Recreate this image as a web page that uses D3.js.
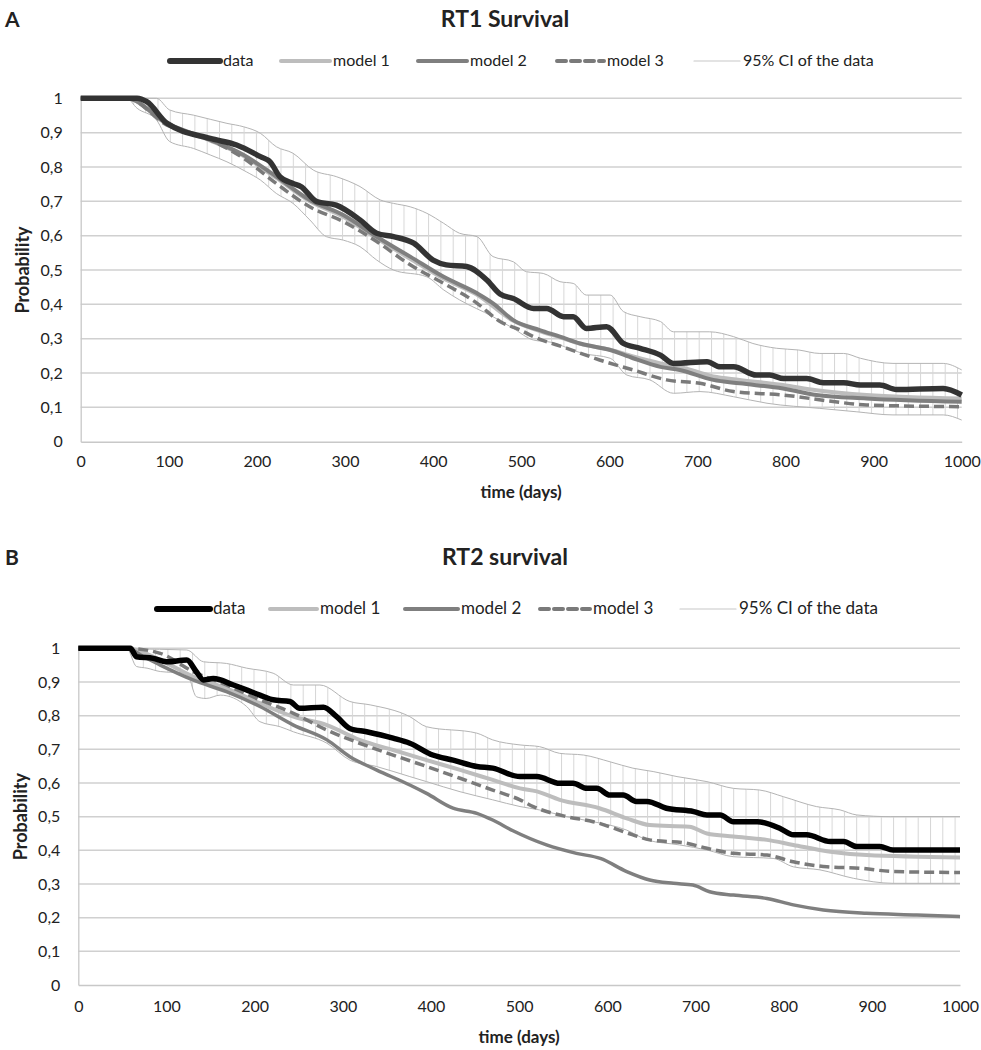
<!DOCTYPE html>
<html><head><meta charset="utf-8">
<script src="https://cdn.jsdelivr.net/npm/d3@7"></script>
<style>body{margin:0;background:#fff}svg{display:block}text{font-family:Lato,"Open Sans",sans-serif;fill:#222}</style>
</head><body><svg id="c" width="981" height="1050"></svg>
<script>
const xTicks = [0,100,200,300,400,500,600,700,800,900,1000];
const yTicks = [0,0.1,0.2,0.3,0.4,0.5,0.6,0.7,0.8,0.9,1];
const yTickLabels = ["0","0,1","0,2","0,3","0,4","0,5","0,6","0,7","0,8","0,9","1"];
const seriesNames = ["data","model 1","model 2","model 3","95% CI of the data"];

// RT1 (panel A)
const rt1Data = [[0,1],[64,1],[75,0.99],[98,0.927],[147,0.883],[177,0.864],[204,0.83],[215,0.815],[226,0.772],[241,0.752],[250,0.743],[268,0.699],[290,0.689],[317,0.646],[336,0.607],[355,0.597],[378,0.578],[400,0.529],[415,0.515],[438,0.51],[461,0.471],[476,0.43],[491,0.417],[514,0.388],[529,0.388],[548,0.364],[559,0.364],[574,0.33],[597,0.335],[616,0.286],[635,0.272],[658,0.252],[673,0.228],[711,0.233],[726,0.218],[741,0.218],[767,0.194],[782,0.194],[798,0.184],[824,0.184],[843,0.172],[866,0.172],[885,0.165],[907,0.165],[926,0.152],[979,0.155],[1000,0.136]];
const rt1Model1 = [[0,1],[52,1],[98,0.925],[147,0.877],[185,0.832],[222,0.768],[260,0.7],[298,0.655],[336,0.592],[374,0.533],[412,0.475],[450,0.428],[491,0.352],[521,0.322],[544,0.304],[567,0.285],[601,0.268],[627,0.248],[658,0.228],[680,0.218],[718,0.19],[748,0.18],[797,0.165],[835,0.15],[892,0.136],[1000,0.126]];
const rt1Model2 = [[0,1],[52,1],[98,0.927],[147,0.879],[185,0.835],[222,0.772],[260,0.704],[298,0.66],[336,0.597],[374,0.539],[412,0.48],[450,0.432],[468,0.403],[491,0.354],[521,0.325],[544,0.306],[567,0.286],[601,0.267],[627,0.243],[658,0.218],[680,0.209],[718,0.18],[748,0.17],[797,0.155],[835,0.136],[892,0.126],[1000,0.116]];
const rt1Model3 = [[0,1],[52,1],[98,0.922],[147,0.879],[185,0.825],[222,0.752],[260,0.684],[298,0.641],[336,0.583],[374,0.515],[412,0.461],[450,0.403],[476,0.35],[499,0.325],[514,0.306],[552,0.272],[589,0.238],[627,0.209],[665,0.18],[703,0.17],[741,0.146],[797,0.136],[854,0.117],[892,0.107],[1000,0.102]];
const rt1CiUpper = [[0,1],[86,1],[101,0.966],[128,0.951],[166,0.927],[185,0.917],[204,0.898],[222,0.859],[241,0.84],[264,0.791],[290,0.772],[317,0.743],[340,0.704],[355,0.694],[374,0.684],[393,0.665],[412,0.636],[430,0.607],[450,0.597],[468,0.539],[491,0.524],[506,0.495],[525,0.49],[544,0.466],[559,0.461],[574,0.427],[601,0.427],[616,0.379],[635,0.364],[658,0.35],[673,0.32],[714,0.32],[741,0.306],[763,0.286],[790,0.272],[815,0.267],[839,0.257],[866,0.257],[885,0.243],[922,0.228],[979,0.228],[1000,0.209]];
const rt1CiLower = [[0,1],[52,1],[64,0.971],[86,0.937],[101,0.874],[128,0.854],[147,0.835],[166,0.815],[188,0.786],[204,0.762],[222,0.723],[241,0.694],[260,0.646],[279,0.597],[298,0.587],[317,0.568],[336,0.529],[355,0.5],[393,0.48],[412,0.442],[430,0.413],[468,0.364],[491,0.33],[514,0.296],[533,0.29],[570,0.257],[601,0.243],[620,0.194],[646,0.18],[673,0.141],[703,0.146],[741,0.131],[779,0.112],[839,0.097],[881,0.087],[922,0.078],[979,0.078],[1000,0.063]];

// RT2 (panel B)
const rt2Data = [[0,1],[59,1],[66,0.975],[85,0.97],[100,0.96],[123,0.965],[134,0.93],[142,0.906],[153,0.91],[176,0.891],[206,0.861],[221,0.847],[240,0.842],[251,0.822],[278,0.825],[293,0.797],[308,0.762],[327,0.752],[357,0.733],[376,0.718],[402,0.683],[425,0.668],[452,0.649],[470,0.644],[501,0.619],[520,0.619],[546,0.599],[561,0.599],[577,0.584],[588,0.584],[603,0.564],[618,0.564],[633,0.545],[645,0.545],[667,0.525],[698,0.515],[713,0.505],[728,0.505],[743,0.485],[770,0.485],[796,0.465],[811,0.446],[826,0.446],[853,0.426],[868,0.426],[883,0.411],[909,0.411],[924,0.401],[1000,0.401]];
const rt2Model1 = [[0,1],[55,1],[93,0.965],[130,0.916],[168,0.881],[206,0.837],[244,0.797],[282,0.772],[319,0.728],[357,0.698],[395,0.668],[433,0.639],[470,0.609],[501,0.584],[520,0.575],[546,0.55],[591,0.525],[622,0.495],[648,0.475],[693,0.47],[713,0.45],[743,0.441],[781,0.431],[811,0.416],[853,0.396],[894,0.386],[1000,0.379]];
const rt2Model2 = [[0,1],[55,1],[74,0.975],[93,0.95],[130,0.906],[168,0.871],[206,0.827],[244,0.772],[282,0.728],[308,0.678],[338,0.639],[376,0.594],[395,0.569],[425,0.525],[452,0.51],[470,0.49],[493,0.458],[531,0.416],[565,0.391],[592,0.376],[622,0.337],[648,0.312],[675,0.302],[697,0.297],[716,0.277],[743,0.267],[781,0.257],[811,0.238],[845,0.223],[894,0.213],[951,0.208],[1000,0.203]];
const rt2Model3 = [[0,1],[55,1],[93,0.985],[130,0.931],[168,0.891],[206,0.847],[244,0.807],[282,0.757],[319,0.718],[357,0.683],[395,0.649],[433,0.614],[470,0.579],[501,0.55],[516,0.53],[554,0.5],[584,0.485],[629,0.446],[648,0.431],[690,0.421],[713,0.406],[743,0.391],[781,0.386],[811,0.366],[849,0.351],[886,0.347],[924,0.337],[1000,0.334]];
const rt2CiUpper = [[0,1],[123,0.995],[142,0.96],[168,0.955],[191,0.941],[221,0.926],[244,0.891],[274,0.891],[308,0.842],[331,0.832],[376,0.797],[395,0.767],[452,0.748],[470,0.728],[501,0.713],[523,0.708],[546,0.688],[573,0.683],[603,0.663],[629,0.644],[652,0.634],[679,0.619],[713,0.604],[743,0.584],[773,0.579],[800,0.559],[837,0.53],[864,0.52],[883,0.505],[921,0.5],[1000,0.5]];
const rt2CiLower = [[0,1],[55,1],[66,0.946],[78,0.941],[93,0.931],[123,0.926],[134,0.856],[145,0.851],[161,0.861],[191,0.827],[206,0.782],[229,0.767],[244,0.752],[282,0.718],[308,0.668],[338,0.649],[376,0.619],[395,0.604],[433,0.574],[470,0.55],[501,0.53],[523,0.52],[554,0.5],[584,0.485],[622,0.46],[645,0.431],[682,0.416],[713,0.401],[743,0.381],[788,0.376],[811,0.351],[841,0.342],[879,0.317],[924,0.302],[1000,0.302]];

const svg = d3.select("#c");
svg.append("rect").attr("width",981).attr("height",1050).attr("fill","#fff");
const defs = svg.append("defs");

function panel(o){
  const x = d3.scaleLinear().domain([0,1000]).range([o.left,o.right]);
  const y = d3.scaleLinear().domain([0,1]).range([o.bottom,o.top]);
  const g = svg.append("g");
  g.append("text").attr("x",5).attr("y",o.titleY).attr("font-size",21).attr("font-weight","bold").text(o.letter);
  g.append("text").attr("x",505).attr("y",o.titleY).attr("text-anchor","middle").attr("font-size",23).attr("font-weight","bold").text(o.title);
  // gridlines
  g.append("g").selectAll("line").data(yTicks.filter(d=>d>0)).join("line")
    .attr("x1",o.left).attr("x2",o.right).attr("y1",d=>y(d)).attr("y2",d=>y(d))
    .attr("stroke","#d0d0d0").attr("stroke-width",1.5);
  // axes
  const ya = g.append("g").attr("transform",`translate(${o.left},0)`)
    .call(d3.axisLeft(y).tickValues(yTicks).tickFormat((d,i)=>yTickLabels[i]).tickSize(0).tickPadding(o.yPad));
  ya.select(".domain").attr("stroke","#c8c8c8").attr("stroke-width",1.3);
  ya.selectAll("text").attr("font-size",16).attr("fill","#222").attr("font-family","Lato");
  const xa = g.append("g").attr("transform",`translate(0,${o.bottom})`)
    .call(d3.axisBottom(x).tickValues(xTicks).tickFormat(d3.format("d")).tickSize(0).tickPadding(o.xPad));
  xa.select(".domain").attr("stroke","#c8c8c8").attr("stroke-width",1.5);
  xa.selectAll("text").attr("font-size",16).attr("fill","#222").attr("font-family","Lato");
  g.append("text").attr("transform",`translate(${o.ytitleX},${(o.top+o.bottom)/2}) rotate(-90)`)
    .attr("text-anchor","middle").attr("font-size",18).attr("font-weight","bold").text("Probability");
  g.append("text").attr("x",(o.left+o.right)/2).attr("y",o.xtitleY).attr("text-anchor","middle")
    .attr("font-size",17).attr("font-weight","bold").text("time (days)");

  // CI hatching: vertical line pattern clipped to the band between the CI bounds
  const pid = "hatch"+o.letter;
  const pat = defs.append("pattern").attr("id",pid).attr("patternUnits","userSpaceOnUse")
    .attr("x",o.left+3).attr("y",0).attr("width",12.3).attr("height",1050);
  pat.append("line").attr("x1",0.5).attr("x2",0.5).attr("y1",0).attr("y2",1050).attr("stroke","#d6d6d6").attr("stroke-width",1);
  const line = d3.line().x(d=>x(d[0])).y(d=>y(d[1])).curve(d3.curveMonotoneX);
  const clipId = "clip"+o.letter;
  const upPath = line(o.ciU);
  const loRev = line(o.ciL.slice().reverse());
  defs.append("clipPath").attr("id",clipId).append("path").attr("d", upPath + "L" + loRev.slice(1));
  g.append("rect").attr("x",o.left).attr("y",o.top).attr("width",o.right-o.left).attr("height",o.bottom-o.top)
    .attr("fill",`url(#${pid})`).attr("clip-path",`url(#${clipId})`);
  [o.ciU,o.ciL].forEach(s=>g.append("path").attr("d",line(s)).attr("fill","none").attr("stroke","#b4b4b4").attr("stroke-width",1));
  g.append("path").attr("d",line(o.m1)).attr("fill","none").attr("stroke","#bdbdbd").attr("stroke-width",4);
  g.append("path").attr("d",line(o.m2)).attr("fill","none").attr("stroke","#7f7f7f").attr("stroke-width",o.m2w);
  g.append("path").attr("d",line(o.m3)).attr("fill","none").attr("stroke","#7a7a7a").attr("stroke-width",3.5).attr("stroke-dasharray","10,5");
  g.append("path").attr("d",line(o.data)).attr("fill","none").attr("stroke",o.dataColor).attr("stroke-width",5.5);

  // legend
  const lg = g.append("g");
  const styles = [
    {c:o.dataColor,w:6,dash:null},
    {c:"#bdbdbd",w:4,dash:null},
    {c:"#7f7f7f",w:4,dash:null},
    {c:"#7a7a7a",w:4,dash:"9,5"},
    {c:"#c8c8c8",w:1.2,dash:null}
  ];
  seriesNames.forEach((n,i)=>{
    const L = o.legend[i];
    lg.append("line").attr("x1",L[0]).attr("x2",L[1]).attr("y1",o.legY).attr("y2",o.legY)
      .attr("stroke",styles[i].c).attr("stroke-width",styles[i].w).attr("stroke-linecap","round")
      .attr("stroke-dasharray",styles[i].dash);
    lg.append("text").attr("x",L[1]+3).attr("y",o.legY+5).attr("font-size",o.legFs).text(n);
  });
}

panel({letter:"A",title:"RT1 Survival",titleY:27,left:80.7,right:961.7,top:98.3,bottom:441.7,
  ytitleX:29,xtitleY:498,yPad:18,xPad:14,legY:61,legFs:16,
  legend:[[170,220],[281,330],[418,467],[557,604],[694,740]],
  data:rt1Data,m1:rt1Model1,m2:rt1Model2,m3:rt1Model3,ciU:rt1CiUpper,ciL:rt1CiLower,dataColor:"#333333",m2w:4});
panel({letter:"B",title:"RT2 survival",titleY:565,left:78.3,right:960,top:648.3,bottom:985,
  ytitleX:27,xtitleY:1043,yPad:18,xPad:16,legY:609,legFs:17,
  legend:[[157,210],[270,317],[405,458],[540,590],[680,736]],
  data:rt2Data,m1:rt2Model1,m2:rt2Model2,m3:rt2Model3,ciU:rt2CiUpper,ciL:rt2CiLower,dataColor:"#000000",m2w:3.5});
</script></body></html>
